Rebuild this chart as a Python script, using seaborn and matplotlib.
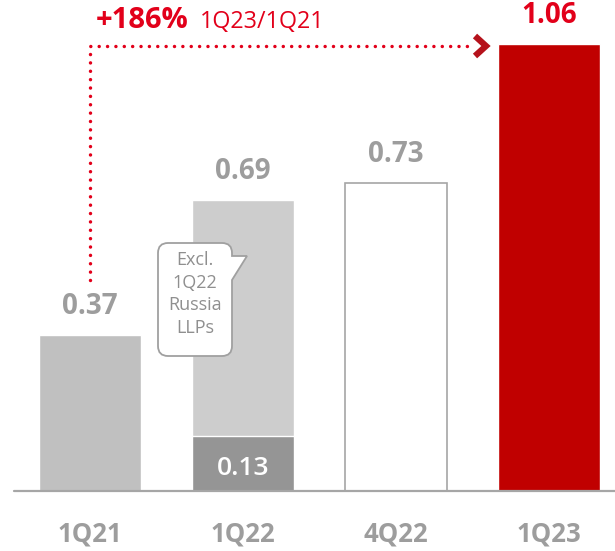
import matplotlib
matplotlib.use("Agg")
import matplotlib.pyplot as plt
import matplotlib.transforms as mtransforms
from matplotlib.path import Path
from matplotlib.patches import PathPatch
from matplotlib.lines import Line2D
import seaborn as sns
import pandas as pd

# Data
quarters = ["1Q21", "1Q22", "4Q22", "1Q23"]
values = [0.37, 0.69, 0.73, 1.06]
russia_quarter = ["1Q22"]
russia_llps = [0.13]
growth_label = "+186%"
growth_period = "1Q23/1Q21"
bubble_lines = ["Excl.", "1Q22", "Russia", "LLPs"]

GRAY_TEXT = "#9d9d9d"
RED_BAR = "#c00000"
RED_TEXT = "#e2001a"
AXIS_GRAY = "#a6a6a6"

sns.set_theme(style="white")
plt.rcParams["font.family"] = ["Open Sans", "DejaVu Sans"]

W, H = 615, 551
fig = plt.figure(figsize=(W / 100, H / 100), dpi=100)
ax = fig.add_axes([0, 60 / H, 1, 491 / H])

df = pd.DataFrame({"quarter": quarters, "value": values})
palette = {"1Q21": "#c0c0c0", "1Q22": "#cdcdcd", "4Q22": "#ffffff", "1Q23": RED_BAR}
sns.barplot(data=df, x="quarter", y="value", hue="quarter", palette=palette,
            order=quarters, hue_order=quarters, width=0.667, saturation=1,
            legend=False, ax=ax, zorder=2)

# outlined 4Q22 bar
for p in ax.patches:
    cx = p.get_x() + p.get_width() / 2
    if abs(cx - quarters.index("4Q22")) < 0.01:
        p.set_facecolor("white")
        p.set_edgecolor(AXIS_GRAY)
        p.set_linewidth(1.2)

# Russia LLPs segment inside the 1Q22 bar
df_llp = pd.DataFrame({"quarter": russia_quarter, "value": russia_llps})
sns.barplot(data=df_llp, x="quarter", y="value", order=quarters, color="#959595",
            width=0.667, saturation=1, ax=ax, zorder=3)

ax.set_xlim(-0.588, 3.431)
ax.set_ylim(0, 491 / 422)
for s in ax.spines.values():
    s.set_visible(False)
ax.set_yticks([])
ax.set_xlabel("")
ax.set_ylabel("")
ax.axhline(0, xmin=14 / W, xmax=1, color=AXIS_GRAY, lw=1.6, clip_on=False, zorder=4)

ax.tick_params(axis="x", length=0, pad=21, labelsize=18.5, labelcolor=GRAY_TEXT)
for lbl in ax.get_xticklabels():
    lbl.set_fontweight("bold")

# value labels
for i, v in enumerate(values):
    color = RED_TEXT if quarters[i] == "1Q23" else GRAY_TEXT
    ax.annotate(f"{v:.2f}", (i, v), xytext=(0, 15), textcoords="offset points",
                ha="center", va="baseline", fontsize=20, fontweight="bold", color=color)

ax.annotate(f"{russia_llps[0]:.2f}", (quarters.index(russia_quarter[0]), 0),
            xytext=(0, 11.5), textcoords="offset points", ha="center", va="baseline",
            fontsize=19, fontweight="semibold", color="white", zorder=5)

# dotted connector from 1Q21 to 1Q23
ax.plot([0, 0, 2.47], [0.5, 1.055, 1.055], color=RED_TEXT, lw=2.5,
        linestyle=(0, (0.01, 2.4)), dash_capstyle="round", clip_on=False, zorder=5)

# pixel-space transform (origin top-left)
px = mtransforms.Affine2D().scale(1 / W, -1 / H).translate(0, 1) + fig.transFigure

fig.add_artist(Line2D([475, 486, 475], [36, 46, 56], transform=px, color="#b5121b",
                      lw=4.5, solid_joinstyle="miter", solid_capstyle="butt"))

fig.text(96, 28, growth_label, transform=px, ha="left", va="baseline",
         fontsize=21, fontweight="bold", color=RED_TEXT)
fig.text(200, 28, growth_period, transform=px, ha="left", va="baseline",
         fontsize=16.8, color=RED_TEXT)

# speech bubble
x0, x1, y0, y1, r = 158, 232, 243, 356, 10
verts = [
    (x0 + r, y0), (x1 - r, y0), (x1, y0), (x1, y0 + r),
    (x1, 256), (247, 256), (x1, 280),
    (x1, y1 - r), (x1, y1), (x1 - r, y1),
    (x0 + r, y1), (x0, y1), (x0, y1 - r),
    (x0, y0 + r), (x0, y0), (x0 + r, y0),
    (x0 + r, y0),
]
codes = [
    Path.MOVETO, Path.LINETO, Path.CURVE3, Path.CURVE3,
    Path.LINETO, Path.LINETO, Path.LINETO,
    Path.LINETO, Path.CURVE3, Path.CURVE3,
    Path.LINETO, Path.CURVE3, Path.CURVE3,
    Path.LINETO, Path.CURVE3, Path.CURVE3,
    Path.CLOSEPOLY,
]
bubble = PathPatch(Path(verts, codes), transform=px, facecolor="white",
                   edgecolor="#a0a0a0", lw=1.3, zorder=6)
fig.add_artist(bubble)
for k, line in enumerate(bubble_lines):
    fig.text(195, 265 + 22.7 * k, line, transform=px, ha="center", va="baseline",
             fontsize=13, color="#8f8f8f", zorder=7)

fig.savefig("out.png", dpi=100)
